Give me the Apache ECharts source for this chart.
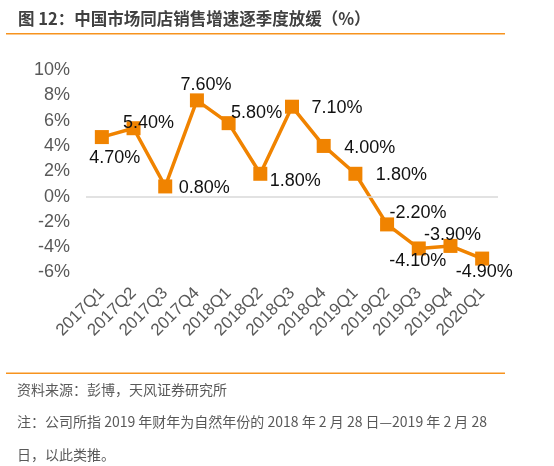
<!DOCTYPE html>
<html>
<head>
<meta charset="utf-8">
<script src="https://cdn.jsdelivr.net/npm/echarts@6/dist/echarts.min.js"></script>
<style>
    html, body { margin: 0; padding: 0; background: #fff; }
    .chart { width: 554px; height: 466px; }
</style>
</head>
<body>
<div class="chart"></div>
<script>
// 季度
var quarters = ['2017Q1', '2017Q2', '2017Q3', '2017Q4', '2018Q1', '2018Q2', '2018Q3',
    '2018Q4', '2019Q1', '2019Q2', '2019Q3', '2019Q4', '2020Q1'];
// 同店销售增速 (%)
var growth = [4.7, 5.4, 0.8, 7.6, 5.8, 1.8, 7.1, 4.0, 1.8, -2.2, -4.1, -3.9, -4.9];
// 标签文字
var growthLabels = ['4.70%', '5.40%', '0.80%', '7.60%', '5.80%', '1.80%', '7.10%',
    '4.00%', '1.80%', '-2.20%', '-4.10%', '-3.90%', '-4.90%'];
// 标签相对数据点的偏移
var labelOffsets = [[13, 21], [15, -5], [39, 2], [9, -15], [28, -10], [35, 7], [45, 1],
    [46, 2], [46, 1], [31, -11], [-1, 13], [2, -11], [2, 13]];

(function () {
    var orange = '#f08300';
    var gray = '#595959';
    var myChart = echarts.init(document.querySelector('.chart'));

    // 每个点单独设置标签位置
    var points = growth.map(function (v, i) {
        return {
            value: v,
            label: {
                formatter: growthLabels[i],
                offset: labelOffsets[i]
            }
        };
    });

    var option = {
        animation: false,
        textStyle: { fontFamily: 'Liberation Sans, Arial, sans-serif' },
        grid: {
            left: 86,
            right: 56,
            top: 70,
            bottom: 193.5
        },
        xAxis: {
            type: 'category',
            data: quarters,
            axisLine: { show: false },
            axisTick: { show: false },
            axisLabel: {
                interval: 0,
                rotate: 45,
                margin: 18,
                color: gray,
                fontSize: 17
            }
        },
        yAxis: {
            type: 'value',
            min: -6,
            max: 10,
            interval: 2,
            axisLine: { show: false },
            axisTick: { show: false },
            splitLine: { show: false },
            axisLabel: {
                margin: 16,
                color: gray,
                fontSize: 18,
                formatter: '{value}%'
            }
        },
        series: [{
            name: '同店销售增速',
            type: 'line',
            data: points,
            symbol: 'rect',
            symbolSize: 14,
            lineStyle: { color: orange, width: 3.5 },
            itemStyle: { color: orange },
            label: {
                show: true,
                position: 'inside',
                color: '#111',
                fontSize: 18
            },
            // 0 轴线
            markLine: {
                silent: true,
                symbol: 'none',
                label: { show: false },
                lineStyle: { color: '#d9d9d9', width: 1.5, type: 'solid' },
                data: [{ yAxis: 0 }]
            },
            z: 3
        }],
        graphic: [
            {
                type: 'text', left: 18, top: 10,
                style: {
                    text: '图 12：中国市场同店销售增速逐季度放缓（%）',
                    font: 'bold 16.5px "Noto Sans CJK SC", sans-serif',
                    fill: '#404040'
                }
            },
            {
                type: 'rect', shape: { x: 6, y: 33, width: 499, height: 1.5 },
                style: { fill: '#f7931e' }
            },
            {
                type: 'rect', shape: { x: 6, y: 372.5, width: 499, height: 1.5 },
                style: { fill: '#f7931e' }
            },
            {
                type: 'text', left: 17, top: 383,
                style: {
                    text: '资料来源：彭博，天风证券研究所',
                    font: '14px "Noto Sans CJK SC", sans-serif',
                    fill: gray
                }
            },
            {
                type: 'text', left: 17, top: 415,
                style: {
                    text: '注：公司所指 2019 年财年为自然年份的 2018 年 2 月 28 日—2019 年 2 月 28',
                    font: '14px "Noto Sans CJK SC", sans-serif',
                    fill: gray
                }
            },
            {
                type: 'text', left: 17, top: 448,
                style: {
                    text: '日，以此类推。',
                    font: '14px "Noto Sans CJK SC", sans-serif',
                    fill: gray
                }
            }
        ]
    };

    myChart.setOption(option);
})();
</script>
</body>
</html>
